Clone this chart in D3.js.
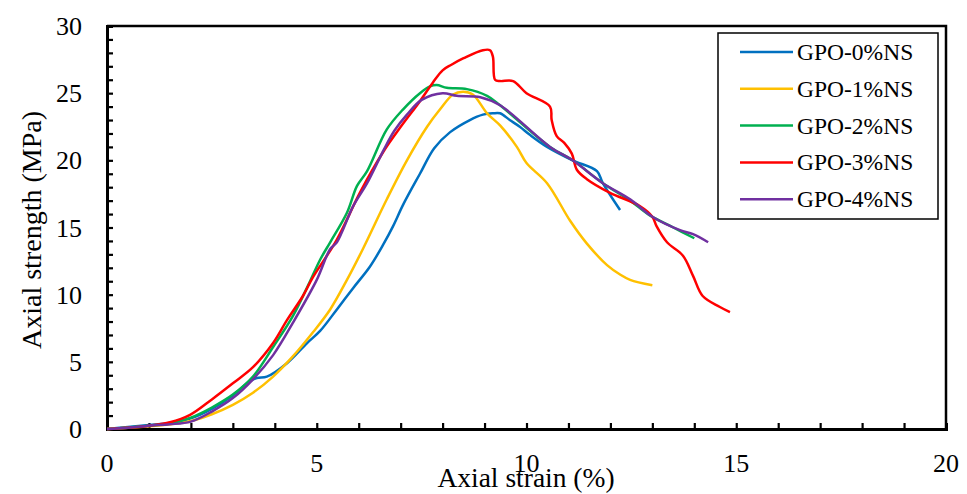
<!DOCTYPE html>
<html>
<head>
<meta charset="utf-8">
<script src="https://cdn.jsdelivr.net/npm/d3@7"></script>
<style>
  body { margin: 0; background: #fff; }
  text { font-family: "Liberation Serif", "Times New Roman", serif; fill: #000; }
</style>
</head>
<body>
<svg id="chart"></svg>
<script>
// series names and colours
var seriesNames = ["GPO-0%NS", "GPO-1%NS", "GPO-2%NS", "GPO-3%NS", "GPO-4%NS"]
var seriesColors = ["#0070c0", "#ffc000", "#00b050", "#ff0000", "#7030a0"]

// strain (%) / strength (MPa)
var strain0 = [0,0.5,1,1.5,2,2.5,3,3.34,3.57,3.81,4.29,4.77,5.08,5.48,5.87,6.27,6.58,6.82,7.06,7.46,7.8,8.18,8.65,8.96,9.2,9.37,9.6,9.84,10.08,10.49,11.1,11.68,11.82,12.23]
var stress0 = [0,0.15,0.3,0.45,0.8,1.5,2.5,3.4,3.8,3.9,4.9,6.4,7.3,8.9,10.5,12.1,13.7,15.1,16.7,19.0,20.9,22.1,23.0,23.4,23.5,23.5,23.0,22.5,21.9,21.0,20.0,19.2,18.3,16.3]

var strain1 = [0,0.5,1,1.5,2,2.5,3,3.48,3.96,4.43,4.91,5.32,5.72,6.1,6.67,7.15,7.63,7.94,8.25,8.49,8.72,9.06,9.37,9.77,10.0,10.49,11.04,11.44,11.92,12.23,12.47,13.0]
var stress1 = [0,0.1,0.2,0.35,0.6,1.1,1.8,2.7,3.9,5.4,7.2,8.9,11.1,13.4,17.1,20.0,22.5,23.8,24.9,25.1,24.9,23.5,22.6,21.0,19.8,18.3,15.5,13.8,12.2,11.5,11.1,10.7]

var strain2 = [0,0.5,1,1.5,2,2.5,3,3.48,3.96,4.43,4.84,5.08,5.32,5.72,5.96,6.2,6.67,7.06,7.46,7.7,7.86,8.1,8.58,9.06,9.37,10.56,11.1,11.82,12.47,12.94,13.5,14.0]
var stress2 = [0,0.1,0.25,0.4,0.85,1.6,2.56,3.9,6.1,8.4,11.0,12.6,13.9,16.1,18.1,19.2,22.3,23.8,25.0,25.5,25.6,25.4,25.3,24.8,24.1,21.0,20.0,18.3,17.0,15.9,15.0,14.2]

var strain3 = [0,0.5,1,1.5,1.98,2.5,3.0,3.48,3.96,4.29,4.67,4.91,5.48,6.03,6.58,6.98,7.46,7.77,8.0,8.2,8.5,8.96,9.13,9.2,9.25,9.37,9.68,10.0,10.56,10.6,10.72,10.9,11.08,11.2,11.44,11.98,12.7,13.0,13.1,13.35,13.73,13.97,14.2,14.6,14.85]
var stress3 = [0,0.1,0.25,0.5,1.05,2.2,3.4,4.6,6.4,8.1,9.9,11.3,14.1,17.6,20.6,22.4,24.4,25.8,26.7,27.1,27.6,28.2,28.2,27.7,26.0,25.9,25.9,25.0,24.0,23.0,21.8,21.3,20.5,19.3,18.6,17.6,16.6,15.8,15.1,13.9,12.9,11.4,9.9,9.1,8.7]

var strain4 = [0,0.5,1,1.5,2,2.5,3,3.48,3.96,4.43,5.0,5.32,5.48,5.87,6.2,6.6,6.85,7.15,7.5,8.0,8.34,8.9,9.37,10.56,11.1,11.82,12.47,13.0,13.66,13.97,14.33]
var stress4 = [0,0.1,0.25,0.35,0.55,1.3,2.3,3.7,5.5,7.9,11.1,13.4,13.9,16.6,18.3,20.8,22.2,23.4,24.5,25.0,24.8,24.7,24.1,21.0,20.0,18.3,17.1,15.8,14.8,14.5,13.9]

var strains = [strain0, strain1, strain2, strain3, strain4]
var stresses = [stress0, stress1, stress2, stress3, stress4]

var xTicks = [0, 5, 10, 15, 20]
var yTicks = [0, 5, 10, 15, 20, 25, 30]

var screen = { width: 967, height: 494 }
var margin = { left: 107, top: 26, right: 21, bottom: 65 }
var width = screen.width - margin.left - margin.right
var height = screen.height - margin.top - margin.bottom

var svg = d3.select("#chart")
  .attr("width", screen.width)
  .attr("height", screen.height)

var xScale = d3.scaleLinear().domain([0, 20]).range([0, width])
var yScale = d3.scaleLinear().domain([0, 30]).range([height, 0])

var plot = svg.append("g")
  .attr("transform", "translate(" + margin.left + "," + margin.top + ")")

// top and right frame
plot.append("path")
  .attr("d", "M0,0H" + width + "V" + height)
  .attr("fill", "none")
  .attr("stroke", "#000")
  .attr("stroke-width", 2.5)

// minor ticks (inside), every 1 unit
var xAxis = d3.axisBottom(xScale)
  .tickValues(d3.range(0, 21, 1))
  .tickSize(-6)
  .tickFormat("")
plot.append("g")
  .attr("transform", "translate(0," + height + ")")
  .call(xAxis)
  .call(function(g){
    g.select(".domain").attr("stroke-width", 3)
    g.selectAll(".tick line").attr("stroke-width", 2.2)
  })

var yAxis = d3.axisLeft(yScale)
  .tickValues(d3.range(0, 31, 1))
  .tickSize(-6)
  .tickFormat("")
plot.append("g")
  .call(yAxis)
  .call(function(g){
    g.select(".domain").attr("stroke-width", 3)
    g.selectAll(".tick line").attr("stroke-width", 2.2)
  })

// tick labels
plot.selectAll(".xlab")
  .data(xTicks)
  .enter()
  .append("text")
  .attr("class", "xlab")
  .attr("x", function(d){ return xScale(d) })
  .attr("y", height + 43)
  .attr("text-anchor", "middle")
  .attr("font-size", 26)
  .text(function(d){ return d })

plot.selectAll(".ylab")
  .data(yTicks)
  .enter()
  .append("text")
  .attr("class", "ylab")
  .attr("x", -25)
  .attr("y", function(d){ return yScale(d) + 9 })
  .attr("text-anchor", "end")
  .attr("font-size", 26)
  .text(function(d){ return d })

// lines
var line = d3.line()
  .x(function(d){ return xScale(d[0]) })
  .y(function(d){ return yScale(d[1]) })
  .curve(d3.curveCatmullRom.alpha(0.5))

seriesNames.forEach(function(name, i){
  var pts = strains[i].map(function(x, j){ return [x, stresses[i][j]] })
  plot.append("path")
    .datum(pts)
    .attr("d", line)
    .attr("fill", "none")
    .attr("stroke", seriesColors[i])
    .attr("stroke-width", 2.5)
    .attr("stroke-linejoin", "round")
})

// axis titles
svg.append("text")
  .attr("x", 526)
  .attr("y", 487)
  .attr("text-anchor", "middle")
  .attr("font-size", 27.5)
  .text("Axial strain (%)")

svg.append("text")
  .attr("transform", "translate(41,230) rotate(-90)")
  .attr("text-anchor", "middle")
  .attr("font-size", 28)
  .text("Axial strength (MPa)")

// legend
var legend = svg.append("g")
legend.append("rect")
  .attr("x", 718).attr("y", 33)
  .attr("width", 220).attr("height", 186)
  .attr("fill", "#fff")
  .attr("stroke", "#000")
  .attr("stroke-width", 1.5)

seriesNames.forEach(function(name, i){
  var yy = 52 + i * 36.8
  legend.append("line")
    .attr("x1", 740).attr("x2", 793)
    .attr("y1", yy).attr("y2", yy)
    .attr("stroke", seriesColors[i])
    .attr("stroke-width", 2.5)
  legend.append("text")
    .attr("x", 797)
    .attr("y", yy + 8)
    .attr("font-size", 23.5)
    .text(name)
})
</script>
</body>
</html>
